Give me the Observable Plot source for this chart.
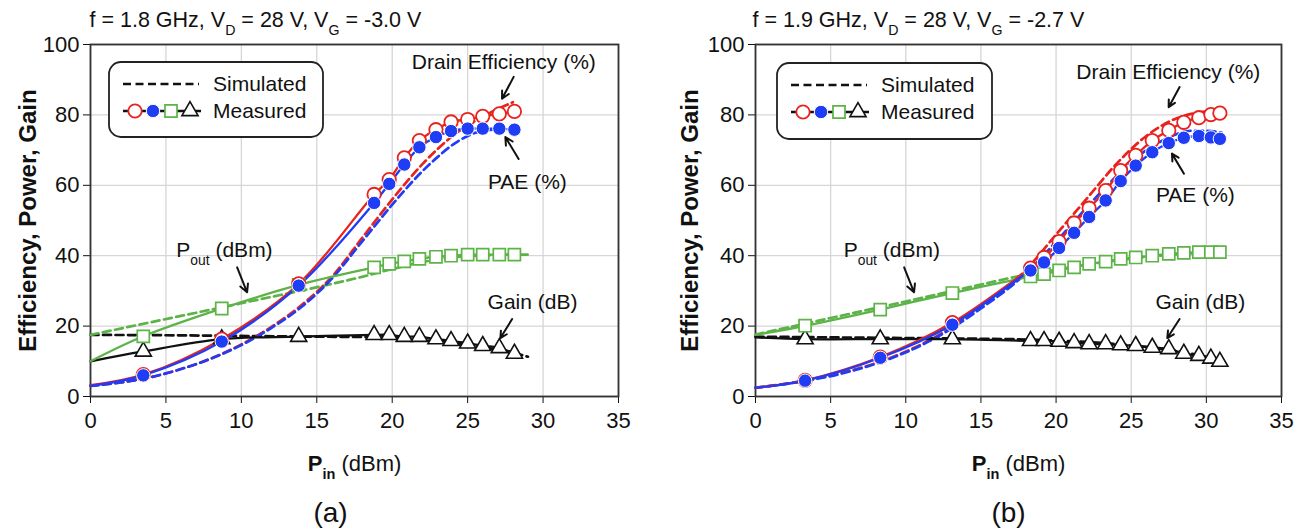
<!DOCTYPE html>
<html><head><meta charset="utf-8">
<script src="https://cdn.jsdelivr.net/npm/d3@7"></script>
<script src="https://cdn.jsdelivr.net/npm/@observablehq/plot@0.6"></script>
<style>
body{margin:0;background:#fff;}
#wrap{position:relative;width:1301px;height:532px;overflow:hidden;background:#fff;}
#wrap svg{position:absolute;top:0;}
</style></head><body><div id="wrap"></div>
<script>
// ---------- tick labels ----------
const xTicks = [0, 5, 10, 15, 20, 25, 30, 35];
const yTicks = [0, 20, 40, 60, 80, 100];

// ---------- panel (a): f = 1.8 GHz ----------
const titleA = "f = 1.8 GHz, V_{D} = 28 V, V_{G} = -3.0 V";
const pinA   = [3.5, 8.7, 13.8, 18.8, 19.8, 20.8, 21.8, 22.9, 23.9, 25.0, 26.0, 27.1, 28.1];
const deA    = [6.2, 16.3, 32.0, 57.4, 61.6, 67.8, 72.7, 75.8, 78.0, 78.7, 79.6, 80.3, 81.0];
const paeA   = [6.0, 15.6, 31.5, 55.0, 60.4, 65.9, 70.8, 73.7, 75.4, 76.1, 76.1, 76.1, 75.8];
const poutA  = [17.1, 25.0, 31.7, 36.7, 37.7, 38.4, 39.1, 39.7, 40.0, 40.3, 40.3, 40.3, 40.3];
const gainA  = [12.8, 16.3, 17.0, 17.5, 17.5, 17.0, 17.0, 16.3, 15.8, 15.1, 14.4, 13.8, 12.2];
// measured traces start at Pin = 0 (de, pae, pout, gain)
const startA = [3.2, 3.0, 10.0, 10.0];
const deSimXA   = [0, 2, 4, 6, 8, 10, 12, 14, 16, 18, 20, 22, 24, 26, 28];
const deSimA    = [3.0, 4.0, 5.5, 7.8, 10.8, 14.8, 19.8, 26.0, 34.0, 45.0, 56.0, 66.0, 74.0, 79.5, 83.6];
const paeSimXA  = [0, 2, 4, 6, 8, 10, 12, 14, 16, 18, 20, 22, 23, 24, 25, 26, 27.5];
const paeSimA   = [3.0, 4.0, 5.5, 7.8, 10.8, 14.6, 19.5, 25.5, 33.5, 44.0, 54.5, 64.0, 68.0, 71.5, 74.0, 75.5, 76.0];
const poutSimXA = [0, 2, 4, 6, 8, 10, 12, 14, 16, 18, 20, 22, 24, 26, 28, 29];
const poutSimA  = [17.5, 19.3, 21.1, 22.9, 24.7, 26.5, 28.3, 30.1, 32.0, 34.0, 36.2, 38.2, 39.5, 40.1, 40.3, 40.3];
const gainSimXA = [0, 5, 10, 15, 18, 20, 22, 24, 26, 28, 29];
const gainSimA  = [17.5, 17.4, 17.2, 17.0, 16.9, 16.6, 16.0, 15.1, 14.0, 12.4, 11.3];
const labelsA = [
  {x: 27.4, y: 94.9, text: "Drain Efficiency (%)"},
  {x: 28.96, y: 60.8, text: "PAE (%)"},
  {x: 8.88, y: 41.5, text: "P_{out} (dBm)"},
  {x: 29.3, y: 26.7, text: "Gain (dB)"}
];
const arrowsA = [
  {x1: 28.05, y1: 90.8, x2: 27.28, y2: 84.6},
  {x1: 28.38, y1: 67.5, x2: 27.5, y2: 73.7},
  {x1: 9.72, y1: 36.7, x2: 10.38, y2: 29.6},
  {x1: 27.95, y1: 22.0, x2: 27.17, y2: 16.6}
];

// ---------- panel (b): f = 1.9 GHz ----------
const titleB = "f = 1.9 GHz, V_{D} = 28 V, V_{G} = -2.7 V";
const pinB   = [3.3, 8.3, 13.1, 18.3, 19.2, 20.2, 21.2, 22.2, 23.3, 24.3, 25.3, 26.4, 27.5, 28.5, 29.5, 30.3, 30.9];
const deB    = [4.6, 11.2, 21.0, 36.5, 39.5, 44.0, 49.3, 53.5, 58.5, 64.2, 68.5, 72.7, 75.6, 77.9, 79.2, 80.1, 80.5];
const paeB   = [4.5, 11.0, 20.4, 35.8, 38.1, 42.2, 46.5, 51.0, 55.7, 61.2, 65.6, 69.4, 72.0, 73.5, 74.0, 73.6, 73.2];
const poutB  = [20.1, 24.7, 29.4, 34.1, 34.8, 35.8, 36.7, 37.7, 38.3, 39.1, 39.5, 40.0, 40.5, 40.8, 41.0, 41.0, 41.0];
const gainB  = [16.3, 16.3, 16.3, 15.8, 15.8, 15.6, 15.2, 14.9, 14.9, 14.6, 14.4, 13.9, 13.5, 12.2, 11.6, 10.8, 9.9];
const startB = [2.5, 2.5, 17.5, 16.8];
const deSimXB   = [0, 3, 6, 9, 12, 15, 18, 20, 22, 24, 26, 28, 29, 30, 31];
const deSimB    = [2.5, 4.3, 7.0, 11.0, 17.0, 25.5, 36.0, 46.0, 56.0, 66.0, 74.0, 79.0, 80.3, 81.0, 81.2];
const paeSimXB  = [0, 3, 6, 9, 12, 15, 18, 20, 22, 24, 26, 27, 28, 29, 30, 31];
const paeSimB   = [2.5, 4.2, 6.8, 10.8, 16.7, 25.0, 35.0, 44.0, 53.5, 62.5, 70.0, 72.5, 74.5, 75.5, 75.5, 75.0];
const poutSimXB = [0, 5, 10, 15, 18, 20, 22, 25, 28, 31];
const poutSimB  = [17.6, 22.3, 27.0, 31.8, 34.6, 36.0, 37.4, 39.2, 40.4, 41.0];
const gainSimXB = [0, 5, 10, 15, 18, 20, 22, 24, 26, 28, 30, 31];
const gainSimB  = [17.0, 16.8, 16.6, 16.4, 16.2, 15.9, 15.5, 14.9, 14.1, 12.9, 11.3, 10.3];
const labelsB = [
  {x: 27.47, y: 92.2, text: "Drain Efficiency (%)"},
  {x: 29.27, y: 57.1, text: "PAE (%)"},
  {x: 9.07, y: 41.5, text: "P_{out} (dBm)"},
  {x: 29.6, y: 26.7, text: "Gain (dB)"}
];
const arrowsB = [
  {x1: 28.22, y1: 87.9, x2: 27.49, y2: 82.2},
  {x1: 28.51, y1: 63.3, x2: 27.71, y2: 69.0},
  {x1: 9.89, y1: 36.7, x2: 10.55, y2: 29.6},
  {x1: 28.22, y1: 22.0, x2: 27.4, y2: 16.6}
];

const yLabel = "Efficiency, Power, Gain";
const xLabel = "*P*_b{in} (dBm)";
const legendTexts = ["Simulated", "Measured"];

// ---------- styles ----------
const FONT = '"Liberation Sans", Arial, Helvetica, sans-serif';
const RED = "#e8231e", BLUE = "#1f3df5", GREEN = "#5cb347", BLACK = "#111";
const NS = "http://www.w3.org/2000/svg";

function richify(svg) {
  svg.querySelectorAll("text").forEach(t => {
    const s = t.textContent;
    if (!/(\*|_b?\{)/.test(s)) return;
    while (t.firstChild) t.removeChild(t.firstChild);
    s.split(/(\*[^*]+\*|_b?\{[^}]+\})/).forEach(part => {
      if (!part) return;
      if (part[0] === "*") {
        const e = document.createElementNS(NS, "tspan");
        e.setAttribute("font-weight", "bold");
        e.textContent = part.slice(1, -1);
        t.appendChild(e);
      } else if (part[0] === "_") {
        const bold = part[1] === "b";
        const e = document.createElementNS(NS, "tspan");
        e.setAttribute("baseline-shift", "sub");
        e.setAttribute("font-size", "66%");
        if (bold) e.setAttribute("font-weight", "bold");
        e.textContent = part.slice(bold ? 3 : 2, -1);
        t.appendChild(e);
      } else {
        t.appendChild(document.createTextNode(part));
      }
    });
  });
}

function makePanel(p) {
  const meas = p.pin.map((x, i) => ({x, de: p.de[i], pae: p.pae[i], pout: p.pout[i], gain: p.gain[i]}));
  const measLine = [{x: 0, de: p.start[0], pae: p.start[1], pout: p.start[2], gain: p.start[3]}, ...meas];
  const sim = (xs, ys) => xs.map((x, i) => ({x, y: ys[i]}));
  const dash = {strokeWidth: 2.7, strokeDasharray: "8,4.5", curve: "monotone-x"};
  const solid = {strokeWidth: 2.3, curve: "catmull-rom"};

  const svg = Plot.plot({
    width: p.width, height: 532,
    marginLeft: p.ml, marginRight: p.mr, marginTop: 44, marginBottom: 136,
    style: {fontFamily: FONT, fontSize: "21px", color: BLACK, background: "transparent", overflow: "visible"},
    x: {domain: [0, 35]},
    y: {domain: [0, 100]},
    marks: [
      Plot.gridX(xTicks, {stroke: "#d6d6d6", strokeOpacity: 1, strokeWidth: 1.3}),
      Plot.gridY(yTicks, {stroke: "#d6d6d6", strokeOpacity: 1, strokeWidth: 1.3}),
      Plot.axisX({ticks: xTicks, tickSize: 7, tickPadding: 9, label: null, fontSize: 22, tickFormat: d => String(d)}),
      Plot.axisY({ticks: yTicks, tickSize: 7, tickPadding: 4, label: null, fontSize: 22, tickFormat: d => String(d)}),
      Plot.frame({stroke: "#333", strokeWidth: 1.8}),
      // simulated
      Plot.line(sim(p.gainSimX, p.gainSim), {x: "x", y: "y", stroke: BLACK, ...dash}),
      Plot.line(sim(p.poutSimX, p.poutSim), {x: "x", y: "y", stroke: GREEN, ...dash}),
      Plot.line(sim(p.deSimX, p.deSim), {x: "x", y: "y", stroke: RED, ...dash}),
      Plot.line(sim(p.paeSimX, p.paeSim), {x: "x", y: "y", stroke: BLUE, ...dash}),
      // measured lines
      Plot.line(measLine, {x: "x", y: "gain", stroke: BLACK, ...solid}),
      Plot.line(measLine, {x: "x", y: "pout", stroke: GREEN, ...solid}),
      Plot.line(measLine, {x: "x", y: "de", stroke: RED, ...solid}),
      Plot.line(measLine, {x: "x", y: "pae", stroke: BLUE, ...solid}),
      // measured markers
      Plot.dot(meas, {x: "x", y: "gain", symbol: "triangle", r: 6, stroke: BLACK, fill: "white", strokeWidth: 1.6}),
      Plot.dot(meas, {x: "x", y: "pout", symbol: "square", r: 6.8, stroke: GREEN, fill: "white", strokeWidth: 1.7}),
      Plot.dot(meas, {x: "x", y: "de", symbol: "circle", r: 6.7, stroke: RED, fill: "white", strokeWidth: 1.8}),
      Plot.dot(meas, {x: "x", y: "pae", symbol: "circle", r: 6.7, stroke: "white", fill: BLUE, strokeWidth: 1}),
      // annotations
      Plot.arrow(p.arrows, {x1: "x1", y1: "y1", x2: "x2", y2: "y2", stroke: BLACK, strokeWidth: 2, headLength: 9, headAngle: 55}),
      Plot.text(p.labels, {x: "x", y: "y", text: "text", fontSize: 21, fill: BLACK}),
      // titles
      Plot.text([p.title], {frameAnchor: "top-left", dx: p.titleDx, dy: -24, textAnchor: "start", lineAnchor: "middle", fontSize: 21.5, fill: BLACK}),
      Plot.text([xLabel], {frameAnchor: "bottom", dy: 67, lineAnchor: "middle", fontSize: 22, fill: BLACK}),
      Plot.text([p.tag], {frameAnchor: "bottom", dx: p.tagDx, dy: 117, lineAnchor: "middle", fontSize: 28, fill: BLACK}),
      Plot.text([yLabel], {frameAnchor: "left", dx: p.yLabelDx, rotate: -90, textAnchor: "middle", lineAnchor: "middle", fontSize: 24, fontWeight: "bold", fill: BLACK})
    ]
  });
  richify(svg);

  // custom legend box
  const L = p.legend;
  const g = d3.select(svg).append("g").attr("font-family", FONT).attr("font-size", 21).attr("text-anchor", "start");
  g.append("rect").attr("x", L.x).attr("y", L.y).attr("width", L.w).attr("height", L.h)
    .attr("rx", 12).attr("fill", "white").attr("stroke", "#222").attr("stroke-width", 1.8);
  g.append("line").attr("x1", L.x + 14).attr("x2", L.x + 90).attr("y1", L.y + 22).attr("y2", L.y + 22)
    .attr("stroke", BLACK).attr("stroke-width", 2.7).attr("stroke-dasharray", "8,4.5");
  g.append("line").attr("x1", L.x + 14).attr("x2", L.x + 92).attr("y1", L.y + 49).attr("y2", L.y + 49)
    .attr("stroke", BLACK).attr("stroke-width", 2.3);
  const sym = (type, r) => d3.symbol(type, r * r * Math.PI)();
  const my = L.y + 49;
  g.append("path").attr("d", sym(d3.symbolCircle, 6.7)).attr("transform", `translate(${L.x + 26},${my})`)
    .attr("fill", "white").attr("stroke", RED).attr("stroke-width", 1.8);
  g.append("path").attr("d", sym(d3.symbolCircle, 6.7)).attr("transform", `translate(${L.x + 44},${my})`)
    .attr("fill", BLUE).attr("stroke", "white").attr("stroke-width", 1);
  g.append("path").attr("d", sym(d3.symbolSquare, 6.8)).attr("transform", `translate(${L.x + 62},${my})`)
    .attr("fill", "white").attr("stroke", GREEN).attr("stroke-width", 1.7);
  g.append("path").attr("d", sym(d3.symbolTriangle, 6)).attr("transform", `translate(${L.x + 81},${my})`)
    .attr("fill", "white").attr("stroke", BLACK).attr("stroke-width", 1.6);
  legendTexts.forEach((t, i) => {
    g.append("text").attr("x", L.x + 104).attr("y", L.y + 22 + i * 27).attr("dy", "0.35em")
      .attr("text-anchor", "start").attr("fill", BLACK).text(t);
  });
  svg.style.left = p.left + "px";
  return svg;
}

const wrap = document.getElementById("wrap");
wrap.appendChild(makePanel({
  left: 0, width: 650, ml: 90, mr: 32, title: titleA, titleDx: -1, tag: "(a)", tagDx: -24, yLabelDx: -62,
  pin: pinA, de: deA, pae: paeA, pout: poutA, gain: gainA, start: startA,
  deSimX: deSimXA, deSim: deSimA, paeSimX: paeSimXA, paeSim: paeSimA,
  poutSimX: poutSimXA, poutSim: poutSimA, gainSimX: gainSimXA, gainSim: gainSimA,
  labels: labelsA, arrows: arrowsA,
  legend: {x: 109, y: 62, w: 214, h: 75}
}));
wrap.appendChild(makePanel({
  left: 650, width: 651, ml: 105, mr: 20, title: titleB, titleDx: -3, tag: "(b)", tagDx: -10, yLabelDx: -65,
  pin: pinB, de: deB, pae: paeB, pout: poutB, gain: gainB, start: startB,
  deSimX: deSimXB, deSim: deSimB, paeSimX: paeSimXB, paeSim: paeSimB,
  poutSimX: poutSimXB, poutSim: poutSimB, gainSimX: gainSimXB, gainSim: gainSimB,
  labels: labelsB, arrows: arrowsB,
  legend: {x: 127, y: 63, w: 215, h: 76}
}));
</script></body></html>
